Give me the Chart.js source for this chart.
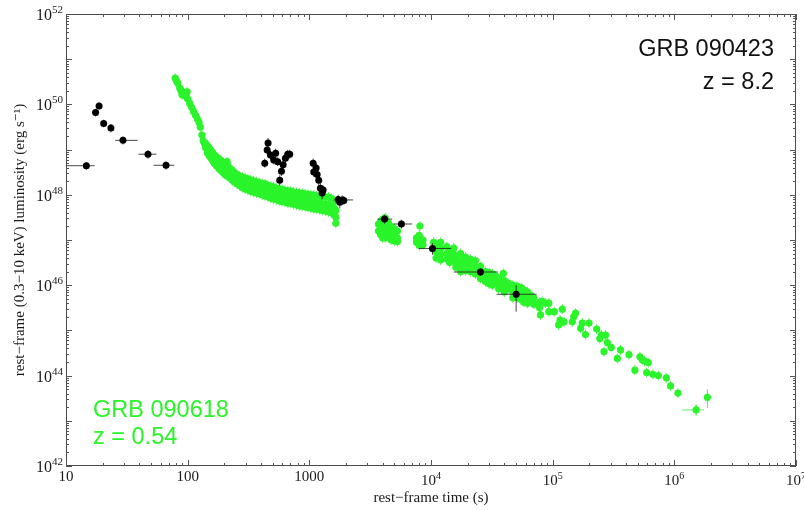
<!DOCTYPE html>
<html>
<head>
<meta charset="utf-8">
<script src="https://cdn.jsdelivr.net/npm/chart.js@4.4.1/dist/chart.umd.min.js"></script>
<style>
  html, body { margin: 0; padding: 0; background: #fff; }
  #wrap { width: 804px; height: 510px; position: relative; }
</style>
</head>
<body>
<div id="wrap"><canvas id="grbChart"></canvas></div>
<script>
// GRB 090618 (z = 0.54), rest-frame time (s) and luminosity (erg/s)
const greenTime = [
    79, 81, 83, 86, 88, 90, 92, 99, 97.5, 100, 104, 108, 112, 116, 120, 124, 127, 131, 134, 137,
    140, 140,
    145, 145, 145, 150, 150, 150, 155, 155, 155, 160, 160, 160, 165, 165, 165,
    172, 172, 172, 180, 180, 180, 187, 187, 187, 195, 195, 195, 203, 203, 203,
    211, 212, 212, 212, 222, 222, 222, 232, 232, 232, 243, 243, 243, 255, 255, 255,
    268, 268, 268, 282, 282, 282, 297, 297, 297, 312, 312, 312, 330, 330, 330,
    348, 348, 348, 367, 367, 367, 388, 388, 388, 410, 410, 410, 432, 432, 432,
    456, 456, 456, 482, 482, 482, 508, 508, 508, 536, 536, 536, 566, 566, 566,
    598, 598, 598, 631, 631, 631, 666, 666, 666, 703, 703, 703, 742, 742, 742,
    784, 784, 784, 828, 828, 828, 874, 874, 874, 923, 923, 923, 975, 975, 975,
    1030, 1030, 1030, 1090, 1090, 1090, 1150, 1150, 1150, 1215, 1215, 1215,
    1285, 1285, 1285, 1360, 1360, 1360, 1440, 1440, 1440, 1520, 1520, 1520,
    1600, 1600, 1600, 1650, 1650, 1650,
    3700, 3700, 3850, 3850, 3850, 4000, 4000, 4000, 4000, 4200, 4200, 4200, 4200,
    4450, 4450, 4450, 4700, 4700, 4700, 5000, 5000, 5000, 5300, 5300, 5300,
    7600, 7600, 8000, 8000, 8000, 8100, 8600, 8600, 10500, 10500,
    11000, 11000, 11000, 12000, 12000, 12000, 12000, 13500, 13500, 13500,
    14200, 14200, 14200, 15000, 15000, 15400, 16000, 16000, 16000,
    17500, 17500, 17500, 17500, 19200, 19200, 19200, 21000, 21000, 21000,
    23200, 23200, 23200, 25500, 25500, 25500,
    28000, 28000, 28000, 30000, 30000, 30000, 32000, 32000, 32000, 34000, 34000,
    36000, 36000, 36000, 39300, 40000, 40000, 40000,
    43000, 43000, 47000, 47000, 47000, 51000, 51000, 51000, 55000, 55000, 55000,
    58000, 58000, 58000, 62000, 62000, 62000, 66000, 66000,
    70000, 70000, 78000, 78000, 79400, 82000, 87000, 93000, 93000, 103000,
    112000, 115000, 116000, 120000, 124000, 145000, 149000, 154000, 170000, 175000,
    186000, 199000, 230000, 244000, 251000, 264000, 272000, 281000, 303000, 340000,
    361000, 424000, 474000, 521000, 545000, 570000, 592000, 611000, 667000, 738000,
    859000, 931000, 1070000, 1510000, 1870000
];
const greenLum = [
    3.8e50, 3.3e50, 2.95e50, 2.3e50, 2.0e50, 1.62e50, 1.86e50, 1.9e50, 1.48e50, 1.32e50,
    1.05e50, 8.5e49, 6.9e49, 5.75e49, 4.8e49, 4.0e49, 3.16e49, 2.1e49, 1.58e49, 1.38e49,
    1.38e49, 1.12e49,
    1.23e49, 1.0e49, 8.5e48, 1.10e49, 8.9e48, 7.4e48, 9.8e48, 7.9e48, 6.6e48,
    8.7e48, 7.1e48, 5.75e48, 7.6e48, 6.0e48, 5.0e48,
    6.9e48, 5.5e48, 4.4e48, 6.3e48, 4.9e48, 3.8e48, 5.75e48, 4.5e48, 3.5e48,
    5.25e48, 4.0e48, 3.1e48, 4.8e48, 3.6e48, 2.8e48,
    5.4e48, 4.6e48, 3.4e48, 2.6e48, 3.8e48, 2.95e48, 2.35e48, 3.5e48, 2.7e48, 2.1e48,
    3.1e48, 2.4e48, 1.9e48, 2.8e48, 2.2e48, 1.74e48,
    2.6e48, 2.0e48, 1.58e48, 2.45e48, 1.86e48, 1.45e48, 2.35e48, 1.78e48, 1.35e48,
    2.24e48, 1.66e48, 1.29e48, 2.14e48, 1.58e48, 1.2e48,
    2.04e48, 1.51e48, 1.15e48, 1.95e48, 1.45e48, 1.10e48, 1.86e48, 1.38e48, 1.07e48,
    1.78e48, 1.32e48, 1.0e48, 1.74e48, 1.26e48, 9.5e47,
    1.62e48, 1.2e48, 9.1e47, 1.55e48, 1.15e48, 8.5e47, 1.48e48, 1.10e48, 8.1e47,
    1.41e48, 1.05e48, 7.8e47, 1.35e48, 1.0e48, 7.4e47,
    1.32e48, 9.5e47, 7.1e47, 1.26e48, 9.3e47, 6.9e47, 1.23e48, 8.9e47, 6.6e47,
    1.2e48, 8.7e47, 6.5e47, 1.15e48, 8.3e47, 6.2e47,
    1.12e48, 8.1e47, 6.0e47, 1.10e48, 7.9e47, 5.75e47, 1.07e48, 7.6e47, 5.6e47,
    1.05e48, 7.4e47, 5.5e47, 1.02e48, 7.2e47, 5.25e47,
    1.0e48, 7.1e47, 5.1e47, 9.8e47, 6.9e47, 4.9e47, 9.5e47, 6.6e47, 4.8e47,
    9.3e47, 6.5e47, 4.7e47,
    9.1e47, 6.3e47, 4.5e47, 8.9e47, 6.2e47, 4.4e47, 8.9e47, 5.9e47, 4.2e47,
    8.3e47, 5.5e47, 4.0e47,
    7.1e47, 5.0e47, 3.6e47, 4.5e47, 3.2e47, 2.35e47,
    2.24e47, 1.58e47, 2.63e47, 1.91e47, 1.32e47, 2.82e47, 2.0e47, 1.41e47, 1.12e47,
    3.1e47, 2.1e47, 1.48e47, 1.12e47,
    2.4e47, 1.66e47, 1.2e47, 2.0e47, 1.41e47, 1.0e47, 1.78e47, 1.26e47, 9.5e46,
    1.58e47, 1.12e47, 9.3e46,
    1.12e47, 8.9e46, 1.26e47, 9.5e46, 7.6e46, 2.04e47, 1.0e47, 7.9e46, 8.9e46, 6.3e46,
    7.9e46, 5.6e46, 4.0e46, 8.9e46, 6.6e46, 4.8e46, 3.6e46, 7.1e46, 5.0e46, 3.8e46,
    6.0e46, 4.2e46, 3.16e46, 5.25e46, 3.8e46, 6.6e46, 4.5e46, 3.16e46, 2.5e46,
    5.0e46, 3.5e46, 2.6e46, 2.0e46, 4.2e46, 3.0e46, 2.1e46, 3.8e46, 2.8e46, 2.0e46,
    3.5e46, 2.5e46, 1.78e46, 2.6e46, 2.0e46, 1.41e46,
    2.0e46, 1.51e46, 1.2e46, 1.9e46, 1.41e46, 1.07e46, 1.78e46, 1.32e46, 1.0e46, 1.58e46, 1.2e46,
    1.41e46, 1.05e46, 8.3e45, 1.82e46, 1.26e46, 9.5e45, 7.1e45,
    1.12e46, 8.3e45, 1.0e46, 7.1e45, 5.25e45, 9.5e45, 7.1e45, 5.25e45, 8.9e45, 6.3e45, 4.8e45,
    7.9e45, 5.6e45, 4.2e45, 7.1e45, 5.25e45, 4.0e45, 6.0e45, 4.5e45,
    5.25e45, 3.8e45, 4.2e45, 3.16e45, 2.2e45, 4.4e45, 4.0e45, 4.0e45, 2.6e45, 2.6e45,
    1.32e45, 1.7e45, 1.45e45, 2.95e45, 1.55e45, 1.55e45, 2.0e45, 2.4e45, 1.12e45, 1.45e45,
    8.1e44, 1.45e45, 1.07e45, 6.6e44, 7.9e44, 3.4e44, 7.9e44, 5.4e44, 4.2e44, 2.4e44,
    3.7e44, 2.9e44, 1.32e44, 2.6e44, 2.24e44, 2.1e44, 1.17e44, 1.95e44, 1.07e44, 1.0e44,
    8.9e43, 5.9e43, 4.1e43, 1.74e43, 3.3e43
];
// the two last GRB 090618 points carry visible error bars
const greenBarTime = [1510000, 1870000];
const greenBarLum = [1.74e43, 3.3e43];
const greenBarTLo = [1160000, 1870000];
const greenBarTHi = [1750000, 1870000];
const greenBarLLo = [1.3e43, 1.9e43];
const greenBarLHi = [2.3e43, 5.0e43];

// GRB 090423 (z = 8.2)
const blackTime = [14.7, 17.5, 18.7, 20.4, 23.4, 29.4, 47.2, 66.4,
    430, 458, 450, 479, 510, 529, 550, 571, 590, 609, 636, 664, 690,
    1075, 1087, 1137, 1159, 1195, 1233, 1273, 1298,
    1726, 1780, 1862, 1920, 4150, 5710, 10280, 25500, 50100];
const blackLum = [4.4e48, 6.6e49, 9.2e49, 3.8e49, 3.0e49, 1.6e49, 7.9e48, 4.5e48,
    5.0e48, 1.4e49, 9.8e48, 7.6e48, 5.9e48, 8.3e48, 5.4e48, 2.1e48, 3.3e48, 4.6e48, 6.4e48, 7.9e48, 7.9e48,
    5.0e48, 3.2e48, 3.9e48, 2.8e48, 2.1e48, 1.4e48, 1.1e48, 1.27e48,
    7.9e47, 6.8e47, 7.7e47, 7.5e47, 2.9e47, 2.26e47, 6.5e46, 1.96e46, 6.3e45];
const blackTLo = [10, null, null, null, null, 25.4, 39.4, 52.5,
    null, null, null, null, null, null, null, null, null, null, null, null, null,
    null, null, null, null, null, null, null, null,
    null, null, 1590, null, 3660, 4940, 7950, 15400, 34600];
const blackTHi = [17.2, null, null, null, null, 38.8, 55.3, 77.6,
    null, null, null, null, null, null, null, null, null, null, null, null, null,
    null, null, null, null, null, null, null, null,
    null, null, 2290, null, 4800, 7000, 14650, 35500, 73800];
const blackLLo = [3.6e48, 5.4e49, 7.8e49, 3.1e49, 2.4e49, 1.3e49, 6.3e48, 3.6e48,
    4.0e48, 1.1e49, 7.8e48, 6.0e48, 4.7e48, 6.6e48, 4.3e48, 1.6e48, 2.6e48, 3.7e48, 5.1e48, 6.3e48, 6.3e48,
    4.0e48, 2.5e48, 3.1e48, 2.2e48, 1.6e48, 1.1e48, 8.0e47, 1.0e48,
    6.3e47, 5.0e47, 6.1e47, 6.0e47, 2.3e47, 1.8e47, 4.7e46, 1.6e46, 2.6e45];
const blackLHi = [5.3e48, 8.0e49, 1.1e50, 4.6e49, 3.7e49, 1.95e49, 9.8e48, 5.5e48,
    6.3e48, 1.8e49, 1.23e49, 9.6e48, 7.4e48, 1.05e49, 6.8e48, 2.7e48, 4.2e48, 5.8e48, 8.1e48, 9.9e48, 9.9e48,
    6.3e48, 4.0e48, 4.9e48, 3.5e48, 2.7e48, 1.8e48, 1.4e48, 1.6e48,
    1.0e48, 8.6e47, 9.7e47, 9.4e47, 3.6e47, 2.8e47, 8.5e46, 2.4e46, 1.0e46];

// axis tick labels
const xTickValues = [10, 100, 1000, 1e4, 1e5, 1e6, 1e7];
const xTickBase = ["10", "100", "1000", "10", "10", "10", "10"];
const xTickExp = ["", "", "", "4", "5", "6", "7"];
const yTickValues = [1e42, 1e44, 1e46, 1e48, 1e50, 1e52];
const yTickExp = ["42", "44", "46", "48", "50", "52"];

const GREEN = "#2af42a";
const SERIF = "'Liberation Serif', 'DejaVu Serif', serif";
const SANS = "'Liberation Sans', Arial, sans-serif";

document.addEventListener("DOMContentLoaded", function () {
    const ctx = document.getElementById("grbChart").getContext("2d");

    const line = (c, x1, y1, x2, y2) => {
        c.beginPath();
        c.moveTo(x1, y1);
        c.lineTo(x2, y2);
        c.stroke();
    };

    // error bars, drawn just before each dataset's points
    const errorBars = {
        id: "errorBars",
        beforeDatasetDraw(chart, args) {
            const { ctx: c, chartArea: a, scales: { x, y } } = chart;
            c.save();
            c.beginPath();
            c.rect(a.left, a.top, a.width, a.height);
            c.clip();
            c.lineWidth = 1;
            if (args.index === 0) {
                c.strokeStyle = "rgba(42,230,42,0.75)";
                for (let i = 0; i < greenTime.length; i++) {
                    const px = x.getPixelForValue(greenTime[i]);
                    const py = y.getPixelForValue(greenLum[i]);
                    line(c, px, py - 5, px, py + 5);
                }
                for (let i = 0; i < greenBarTime.length; i++) {
                    const px = x.getPixelForValue(greenBarTime[i]);
                    const py = y.getPixelForValue(greenBarLum[i]);
                    line(c, x.getPixelForValue(greenBarTLo[i]), py, x.getPixelForValue(greenBarTHi[i]), py);
                    line(c, px, y.getPixelForValue(greenBarLLo[i]), px, y.getPixelForValue(greenBarLHi[i]));
                }
            } else {
                c.strokeStyle = "rgba(40,40,40,0.85)";
                for (let i = 0; i < blackTime.length; i++) {
                    const px = x.getPixelForValue(blackTime[i]);
                    const py = y.getPixelForValue(blackLum[i]);
                    if (blackTLo[i] !== null) {
                        line(c, x.getPixelForValue(blackTLo[i]), py, x.getPixelForValue(blackTHi[i]), py);
                    }
                    line(c, px, y.getPixelForValue(blackLLo[i]), px, y.getPixelForValue(blackLHi[i]));
                }
            }
            c.restore();
        }
    };

    // frame, inward ticks on all four sides, tick labels and the two captions
    const frame = {
        id: "frame",
        afterDraw(chart) {
            const { ctx: c, chartArea: a, scales: { x, y } } = chart;
            c.save();
            c.strokeStyle = "#4a4a4a";
            c.lineWidth = 1;
            c.strokeRect(Math.round(a.left) + 0.5, Math.round(a.top) + 0.5,
                Math.round(a.width) - 1, Math.round(a.height) - 1);

            c.strokeStyle = "#555";
            for (let d = 1; d <= 7; d++) {
                for (let m = 1; m <= 9; m++) {
                    if (d === 7 && m > 1) break;
                    const px = Math.round(x.getPixelForValue(m * Math.pow(10, d))) + 0.5;
                    const len = m === 1 ? 6 : 3;
                    line(c, px, a.bottom, px, a.bottom - len);
                    line(c, px, a.top, px, a.top + len);
                }
            }
            for (let d = 42; d <= 52; d++) {
                for (let m = 1; m <= 9; m++) {
                    if (d === 52 && m > 1) break;
                    const py = Math.round(y.getPixelForValue(m * Math.pow(10, d))) + 0.5;
                    const len = m === 1 ? 6 : 3;
                    line(c, a.left, py, a.left + len, py);
                    line(c, a.right, py, a.right - len, py);
                }
            }

            c.fillStyle = "#1a1a1a";
            c.textBaseline = "alphabetic";
            // x labels
            for (let i = 0; i < xTickValues.length; i++) {
                const px = x.getPixelForValue(xTickValues[i]);
                c.font = "15px " + SERIF;
                const bw = c.measureText(xTickBase[i]).width;
                c.font = "10px " + SERIF;
                const ew = xTickExp[i] ? c.measureText(xTickExp[i]).width : 0;
                const left = px - (bw + ew) / 2;
                const base = xTickExp[i] ? a.bottom + 19 : a.bottom + 15;
                c.textAlign = "left";
                c.font = "15px " + SERIF;
                c.fillText(xTickBase[i], left, base);
                if (xTickExp[i]) {
                    c.font = "10px " + SERIF;
                    c.fillText(xTickExp[i], left + bw, base - 6);
                }
            }
            // y labels
            for (let i = 0; i < yTickValues.length; i++) {
                const py = y.getPixelForValue(yTickValues[i]);
                c.font = "11px " + SERIF;
                const ew = c.measureText(yTickExp[i]).width;
                const right = a.left - 3;
                c.textAlign = "right";
                c.fillText(yTickExp[i], right, py - 1);
                c.font = "16px " + SERIF;
                c.fillText("10", right - ew, py + 6);
            }

            // captions
            c.font = "23.5px " + SANS;
            c.textAlign = "right";
            c.fillStyle = "#111";
            c.fillText("GRB 090423", 774, 56);
            c.fillText("z = 8.2", 774, 89);
            c.textAlign = "left";
            c.fillStyle = GREEN;
            c.fillText("GRB 090618", 93, 417);
            c.fillText("z = 0.54", 93, 444);
            c.restore();
        }
    };

    const data = {
        datasets: [
            {
                label: "GRB 090618",
                data: greenTime.map((t, i) => ({ x: t, y: greenLum[i] })),
                backgroundColor: GREEN,
                borderWidth: 0,
                pointRadius: 3.6,
                pointHoverRadius: 3.6,
                order: 2
            },
            {
                label: "GRB 090423",
                data: blackTime.map((t, i) => ({ x: t, y: blackLum[i] })),
                backgroundColor: "#000",
                borderWidth: 0,
                pointRadius: 3.5,
                pointHoverRadius: 3.5,
                order: 1
            }
        ]
    };

    const config = {
        type: "scatter",
        data: data,
        options: {
            responsive: true,
            maintainAspectRatio: false,
            animation: false,
            layout: { padding: { top: 14, right: 8, left: 0, bottom: 0 } },
            plugins: {
                legend: { display: false },
                tooltip: { enabled: false }
            },
            scales: {
                x: {
                    type: "logarithmic",
                    min: 10,
                    max: 1e7,
                    ticks: { display: false },
                    grid: { display: false, drawTicks: false },
                    border: { display: false },
                    title: {
                        display: true,
                        text: "rest\u2212frame time (s)",
                        color: "#1a1a1a",
                        font: { family: SERIF, size: 15, lineHeight: 1.2 },
                        padding: { top: 23, bottom: 3 }
                    }
                },
                y: {
                    type: "logarithmic",
                    min: 1e42,
                    max: 1e52,
                    ticks: { display: false },
                    grid: { display: false, drawTicks: false },
                    border: { display: false },
                    title: {
                        display: true,
                        text: "rest\u2212frame (0.3\u221210 keV) luminosity (erg s\u207B\u00B9)",
                        color: "#1a1a1a",
                        font: { family: SERIF, size: 15, lineHeight: 1.2 },
                        padding: { top: 11, bottom: 37 }
                    }
                }
            }
        },
        plugins: [errorBars, frame]
    };

    new Chart(ctx, config);
});
</script>
</body>
</html>
